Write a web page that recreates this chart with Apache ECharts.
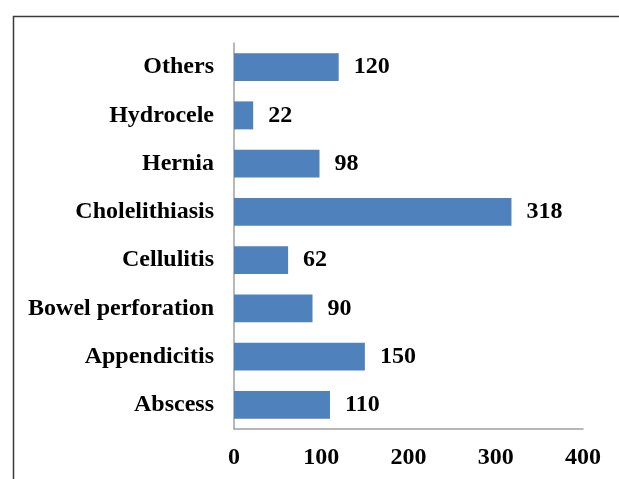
<!DOCTYPE html>
<html>
<head>
<meta charset="utf-8">
<script src="https://cdn.jsdelivr.net/npm/echarts@6/dist/echarts.min.js"></script>
<style>
  html, body { margin: 0; padding: 0; background: #fff; }
  #chart { width: 619px; height: 479px; }
</style>
</head>
<body>
<div id="chart"></div>
<script>
// categories from bottom to top
var categories = ['Abscess', 'Appendicitis', 'Bowel perforation', 'Cellulitis',
  'Cholelithiasis', 'Hernia', 'Hydrocele', 'Others'];
var cases = [110, 150, 90, 62, 318, 98, 22, 120];
var xTicks = [0, 100, 200, 300, 400];

var myChart = echarts.init(document.getElementById('chart'));
var font = 'Liberation Serif, Times New Roman, serif';

var option = {
  animation: false,
  graphic: [
    {
      type: 'rect',
      left: 11, top: 14,
      shape: { width: 700, height: 600 },
      style: { fill: 'none', stroke: '#3a3a3a', lineWidth: 1.5 },
      silent: true
    }
  ],
  grid: { left: 234, right: 36, top: 43, bottom: 50 },
  xAxis: {
    type: 'value',
    min: xTicks[0],
    max: xTicks[xTicks.length - 1],
    interval: 100,
    splitLine: { show: false },
    axisLine: { show: true, lineStyle: { color: '#a0a0a0', width: 1.5 } },
    axisTick: { show: false },
    axisLabel: {
      margin: 17,
      color: '#000',
      fontFamily: font,
      fontWeight: 'bold',
      fontSize: 24
    }
  },
  yAxis: {
    type: 'category',
    data: categories,
    axisLine: { show: true, lineStyle: { color: '#a0a0a0', width: 1.5 } },
    axisTick: { show: false },
    axisLabel: {
      margin: 20,
      color: '#000',
      fontFamily: font,
      fontWeight: 'bold',
      fontSize: 24
    }
  },
  series: [
    {
      type: 'bar',
      data: cases,
      barCategoryGap: '42%',
      itemStyle: { color: '#4f81bd' },
      label: {
        show: true,
        position: 'right',
        distance: 15,
        color: '#000',
        fontFamily: font,
        fontWeight: 'bold',
        fontSize: 24
      }
    }
  ]
};

option && myChart.setOption(option);
</script>
</body>
</html>
